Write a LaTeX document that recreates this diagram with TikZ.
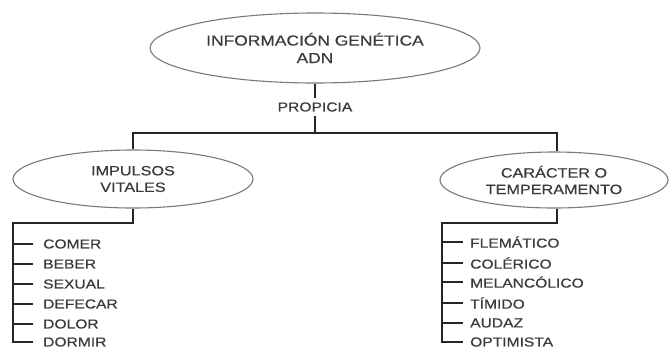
\documentclass[tikz,border=0pt]{standalone}
\usepackage{fontspec}
\setmainfont{Liberation Sans}
\newfontfamily\labfont[FakeStretch=1.2,FakeBold=0.4]{Liberation Sans}
\usetikzlibrary{shapes.geometric}
\definecolor{txt}{HTML}{3A3A3A}
\definecolor{rim}{HTML}{7A7A7A}
\begin{document}
\begin{tikzpicture}[x=1pt,y=-1pt,
  oval/.style={ellipse,draw=rim,line width=1.1pt,inner sep=0pt,align=center,
    font=\labfont\fontsize{13.5}{16.5}\selectfont,text=txt},
  item/.style={anchor=west,inner sep=0pt,font=\labfont\fontsize{13}{15}\selectfont,text=txt},
  lab/.style={inner sep=0pt,font=\labfont\fontsize{13}{15}\selectfont,text=txt},
  conn/.style={line width=1.7pt,draw=black!85}]
\clip (0,0) rectangle (669,349);
\fill[white] (0,0) rectangle (669,349);
% ellipses
\node[oval,minimum width=330,minimum height=70,font=\labfont\fontsize{14.5}{17.5}\selectfont] (top) at (315,48) {INFORMACIÓN GENÉTICA\\ADN};
\node[lab] (prop) at (315,107) {PROPICIA};
\node[oval,minimum width=240,minimum height=58] (left) at (133,179) {IMPULSOS\\VITALES};
\node[oval,minimum width=228,minimum height=56] (right) at (554,180) {CARÁCTER O\\TEMPERAMENTO};
\coordinate (join) at (315,133);
\coordinate (lb) at (13,223);
\coordinate (rb) at (442,223);
% items left
\node[item] (l1) at (43,244) {COMER};
\node[item] (l2) at (43,264) {BEBER};
\node[item] (l3) at (43,284) {SEXUAL};
\node[item] (l4) at (43,304) {DEFECAR};
\node[item] (l5) at (43,324) {DOLOR};
\node[item] (l6) at (43,342) {DORMIR};
% items right
\node[item] (r1) at (470,242) {FLEMÁTICO};
\node[item] (r2) at (470,263) {COLÉRICO};
\node[item] (r3) at (470,282) {MELANCÓLICO};
\node[item] (r4) at (470,303) {TÍMIDO};
\node[item] (r5) at (470,323) {AUDAZ};
\node[item] (r6) at (470,342) {OPTIMISTA};
% connectors
\draw[conn] (top.south) -- ([yshift=4]prop.north);
\draw[conn] ([yshift=-4]prop.south) -- (join);
\draw[conn] (left.north -| 133,0) |- (join) -| (right.north -| 557,0);
\draw[conn] (left.south) |- (lb) |- ([xshift=-10]l6.west);
\draw[conn] (right.south -| 557,0) |- (rb) |- ([xshift=-7]r6.west);
\foreach \i in {1,...,5}{
  \draw[conn] (lb |- l\i.west) -- ([xshift=-10]l\i.west);
  \draw[conn] (rb |- r\i.west) -- ([xshift=-7]r\i.west);
}
\end{tikzpicture}
\end{document}
